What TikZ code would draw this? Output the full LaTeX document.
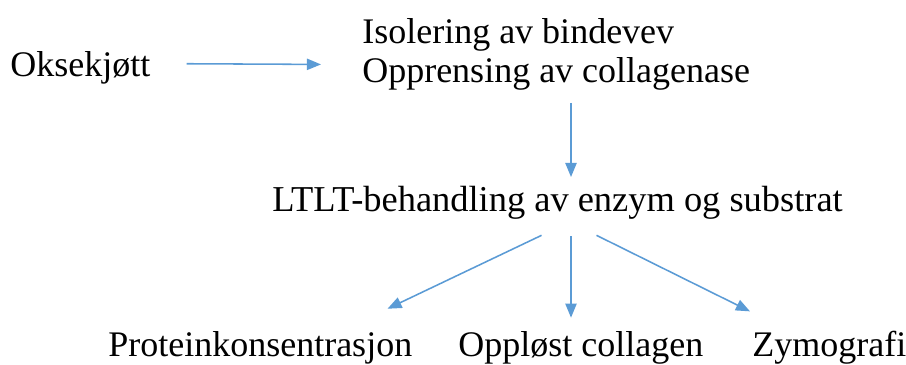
\documentclass[tikz,border=0pt]{standalone}
\usepackage{fontspec}
\setmainfont{Liberation Serif}
\usepackage{xcolor}
\usetikzlibrary{arrows.meta,positioning}
\definecolor{pilblue}{RGB}{91,155,213}
\tikzstyle{arrow} = [draw=pilblue,line width=1.1pt,-{Triangle[length=10pt,width=8pt]}]

\begin{document}
\begin{tikzpicture}[x=0.025cm,y=-0.025cm]
    \tikzstyle{txt} = [inner sep=0pt, anchor=base west, font=\fontsize{25.6}{27.7}\selectfont]
    \useasboundingbox (0,0) rectangle (906,365);
    \node [txt] (okse) at (10,77) {Oksekjøtt};
    \node [txt, anchor=north west, align=left] (rensing) at (362,18.4) {Isolering av bindevev\\Opprensing av collagenase};
    \node [txt, font=\fontsize{25.9}{27.7}\selectfont] (ltlt) at (272,212) {LTLT-behandling av enzym og substrat};
    \node [txt] (protein) at (108,357) {Proteinkonsentrasjon};
    \node [txt] (collagen) at (458,357) {Oppløst collagen};
    \node [txt] (zymo) at (752,357) {Zymografi};
    \coordinate (axis) at (571,0);

    % Arrows
    \draw[arrow] ([shift={(36,-4.6)}]okse.east) -- ([shift={(-41,9.9)}]rensing.west);
    \draw[arrow, shorten <=8.7pt, shorten >=6.7pt] (rensing.south -| axis) -- (ltlt.north -| axis);
    \draw[arrow] ([shift={(-16,15.2)}]ltlt.south) -- ([shift={(-25,-23)}]protein.north east);
    \draw[arrow, shorten <=11.5pt, shorten >=10pt] (ltlt.south -| axis) -- (collagen.north -| axis);
    \draw[arrow] ([shift={(39,15.2)}]ltlt.south) -- ([shift={(-2,-20)}]zymo.north west);

\end{tikzpicture}
\end{document}
